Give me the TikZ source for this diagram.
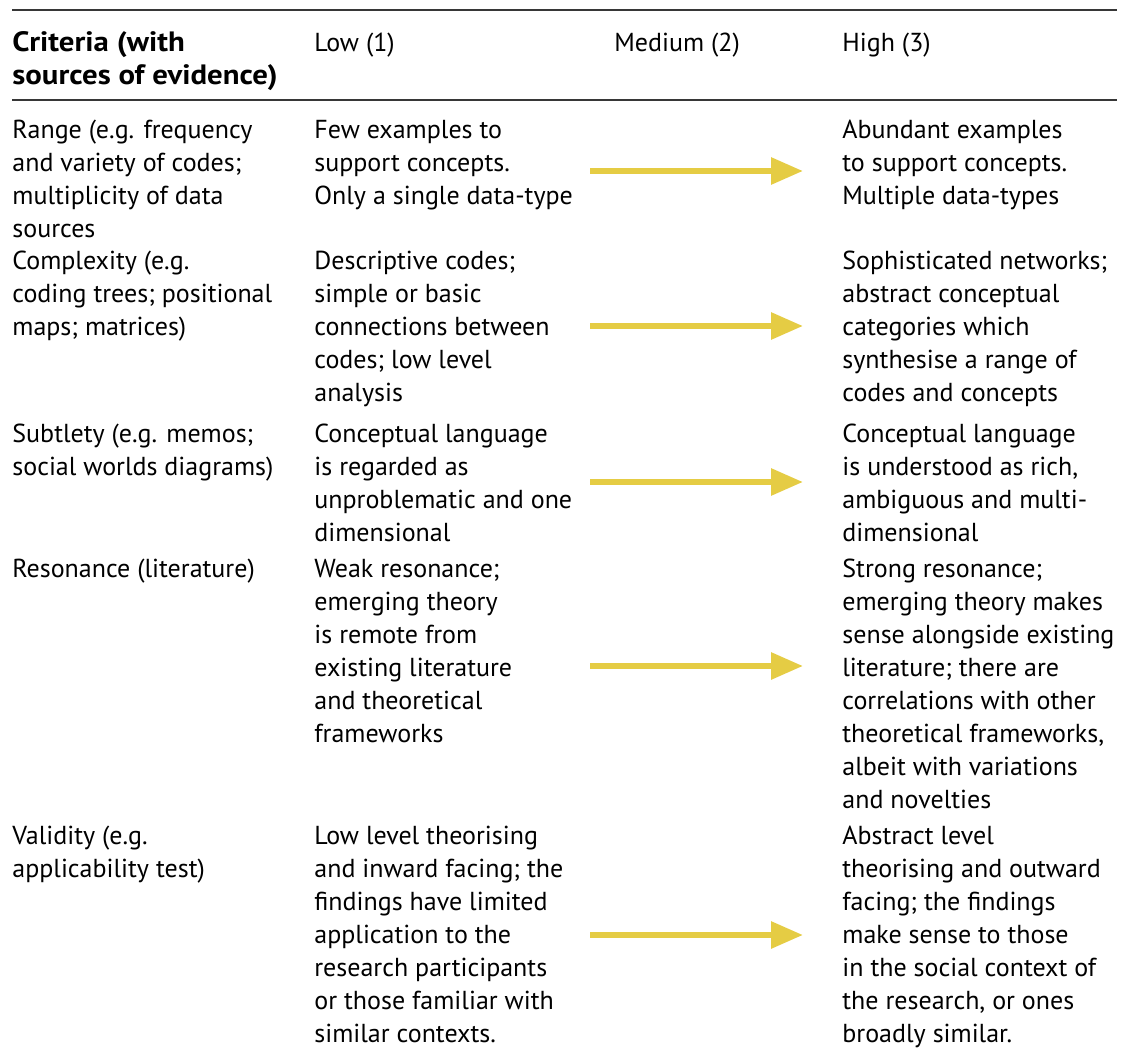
\documentclass[tikz,border=0pt]{standalone}
\usepackage{fontspec}
\setmainfont{PT Sans}
\newfontface\headbold{PT Sans Bold}[FakeStretch=1.1]
\usetikzlibrary{arrows.meta}

\definecolor{arrowyellow}{RGB}{229,204,68}
\definecolor{rulegray}{RGB}{55,55,55}

\tikzset{
    cell/.style={anchor=north west, inner sep=0pt, font=\fontsize{13}{16.5}\selectfont},
    rule/.style={draw=rulegray, line width=1pt},
    yarrow/.style={draw=arrowyellow, line width=3pt, -{Triangle[length=16pt,width=13pt]}},
}

\begin{document}
\begin{tikzpicture}[x=0.5pt,y=-0.5pt]

    \useasboundingbox (0,0) rectangle (1121,1054);

    % rules
    \coordinate (topL) at (12,10);
    \coordinate (topR) at (1117,10);
    \coordinate (midL) at (12,100);
    \coordinate (midR) at (1117,100);
    \draw[rule] (topL) -- (topR);
    \draw[rule] (midL) -- (midR);

    % header
    \node[cell] (hdCrit) at (12,28) {
        \begin{tabular}{@{}l@{}}
            {\headbold\fontsize{14}{16.5}\selectfont Criteria (with} \\
            {\headbold\fontsize{14}{16.5}\selectfont sources of evidence)} \\
        \end{tabular}
    };
    \node[cell] (hdLow) at (314,28) {\begin{tabular}{@{}l@{}} Low (1) \end{tabular}};
    \node[cell] (hdMed) at (614,28) {\begin{tabular}{@{}l@{}} Medium (2) \end{tabular}};
    \node[cell] (hdHigh) at (842,28) {\begin{tabular}{@{}l@{}} High (3) \end{tabular}};

    % range
    \node[cell] (rangeCrit) at (12,115) {
        \begin{tabular}{@{}l@{}}
            Range (e.g. frequency \\
            and variety of codes; \\
            multiplicity of data \\
            sources \\
        \end{tabular}
    };
    \node[cell] (rangeLow) at (314,115) {
        \begin{tabular}{@{}l@{}}
            Few examples to \\
            support concepts. \\
            Only a single data-type \\
        \end{tabular}
    };
    \node[cell] (rangeHigh) at (842,115) {
        \begin{tabular}{@{}l@{}}
            Abundant examples \\
            to support concepts. \\
            Multiple data-types \\
        \end{tabular}
    };

    % complexity
    \node[cell] (complexCrit) at (12,246) {
        \begin{tabular}{@{}l@{}}
            Complexity (e.g. \\
            coding trees; positional \\
            maps; matrices) \\
        \end{tabular}
    };
    \node[cell] (complexLow) at (314,246) {
        \begin{tabular}{@{}l@{}}
            Descriptive codes; \\
            simple or basic \\
            connections between \\
            codes; low level \\
            analysis \\
        \end{tabular}
    };
    \node[cell] (complexHigh) at (842,246) {
        \begin{tabular}{@{}l@{}}
            Sophisticated networks; \\
            abstract conceptual \\
            categories which \\
            synthesise a range of \\
            codes and concepts \\
        \end{tabular}
    };

    % subtlety
    \node[cell] (subtleCrit) at (12,419) {
        \begin{tabular}{@{}l@{}}
            Subtlety (e.g. memos; \\
            social worlds diagrams) \\
        \end{tabular}
    };
    \node[cell] (subtleLow) at (314,419) {
        \begin{tabular}{@{}l@{}}
            Conceptual language \\
            is regarded as \\
            unproblematic and one \\
            dimensional \\
        \end{tabular}
    };
    \node[cell] (subtleHigh) at (842,419) {
        \begin{tabular}{@{}l@{}}
            Conceptual language \\
            is understood as rich, \\
            ambiguous and multi- \\
            dimensional \\
        \end{tabular}
    };

    % resonance
    \node[cell] (resonCrit) at (12,554) {
        \begin{tabular}{@{}l@{}}
            Resonance (literature) \\
        \end{tabular}
    };
    \node[cell] (resonLow) at (314,554) {
        \begin{tabular}{@{}l@{}}
            Weak resonance; \\
            emerging theory \\
            is remote from \\
            existing literature \\
            and theoretical \\
            frameworks \\
        \end{tabular}
    };
    \node[cell] (resonHigh) at (842,554) {
        \begin{tabular}{@{}l@{}}
            Strong resonance; \\
            emerging theory makes \\
            sense alongside existing \\
            literature; there are \\
            correlations with other \\
            theoretical frameworks, \\
            albeit with variations \\
            and novelties \\
        \end{tabular}
    };

    % validity
    \node[cell] (validCrit) at (12,821) {
        \begin{tabular}{@{}l@{}}
            Validity (e.g. \\
            applicability test) \\
        \end{tabular}
    };
    \node[cell] (validLow) at (314,821) {
        \begin{tabular}{@{}l@{}}
            Low level theorising \\
            and inward facing; the \\
            findings have limited \\
            application to the \\
            research participants \\
            or those familiar with \\
            similar contexts. \\
        \end{tabular}
    };
    \node[cell] (validHigh) at (842,821) {
        \begin{tabular}{@{}l@{}}
            Abstract level \\
            theorising and outward \\
            facing; the findings \\
            make sense to those \\
            in the social context of \\
            the research, or ones \\
            broadly similar. \\
        \end{tabular}
    };

    % arrows low -> high
    \coordinate (rangeFrom) at (590,171);
    \coordinate (rangeTo) at (803,171);
    \coordinate (complexFrom) at (590,326);
    \coordinate (complexTo) at (803,326);
    \coordinate (subtleFrom) at (590,482);
    \coordinate (subtleTo) at (803,482);
    \coordinate (resonFrom) at (590,666);
    \coordinate (resonTo) at (803,666);
    \coordinate (validFrom) at (590,935);
    \coordinate (validTo) at (803,935);

    \draw[yarrow] (rangeFrom) to (rangeTo);
    \draw[yarrow] (complexFrom) to (complexTo);
    \draw[yarrow] (subtleFrom) to (subtleTo);
    \draw[yarrow] (resonFrom) to (resonTo);
    \draw[yarrow] (validFrom) to (validTo);

\end{tikzpicture}
\end{document}
